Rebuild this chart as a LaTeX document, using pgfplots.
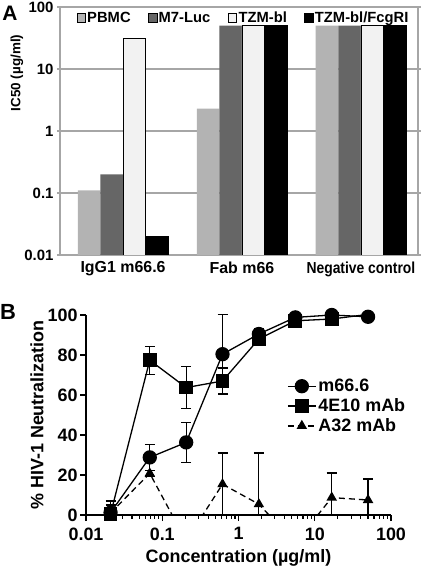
\documentclass[border=0pt]{standalone}
\usepackage{pgfplots}
\pgfplotsset{compat=1.18}
\usepackage{fontspec}
\setmainfont{Liberation Sans}
\definecolor{gridgray}{HTML}{A6A6A6}
\definecolor{pbmc}{HTML}{B3B3B3}
\definecolor{mseven}{HTML}{666666}
\definecolor{tzm}{HTML}{F2F2F2}
\newcommand{\fs}[1]{\fontsize{#1}{#1}\selectfont\bfseries}
\begin{document}
\begin{tikzpicture}
\path[use as bounding box] (0,0) rectangle (422bp,567bp);
\node[font=\fs{21}] at (10bp,554bp) {A};
\node[font=\fs{22}] at (8bp,255bp) {B};
\begin{axis}[
  at={(60bp,312bp)}, anchor=south west, scale only axis,
  width=358bp, height=248bp,
  ymode=log, ymin=0.01, ymax=100, log origin=infty,
  xmin=-0.53, xmax=2.48,
  ybar=0pt, bar width=0.19,
  xtick={0,1,2},
  xticklabels={IgG1 m66.6,Fab m66,\scalebox{0.87}[1]{Negative control}},
  xtick style={draw=none},
  ytick={0.01,0.1,1,10,100}, yticklabels={0.01,0.1,1,10,100},
  yminorticks=false,
  ymajorgrids, grid style={gridgray, line width=1.5bp},
  axis line style={gridgray, line width=1.8bp},
  ytick style={gridgray, line width=1.5bp}, tick align=outside, major tick length=3bp,
  yticklabel style={font=\fs{15}},
  xticklabel style={font=\fs{16}},
  ylabel={IC50 (µg/ml)},
  ylabel style={font=\fs{13.5}, at={(axis description cs:-0.12,0.734)}, anchor=center},
  /pgf/number format/assume math mode=true,
  legend columns=4,
  legend style={draw=none, fill=none, font=\fs{14.8}, at={(axis description cs:0.512,0.956)}, anchor=center,
    /tikz/every even column/.append style={column sep=16bp}, inner sep=0pt, nodes={inner xsep=1.5bp}},
  legend image code/.code={\draw[#1,/tikz/.cd] (0bp,-4.3bp) rectangle (8.6bp,4.3bp);},
]
\addplot[fill=pbmc, draw=none] coordinates {(0,0.11) (1,2.3) (2,50)};
\addplot[fill=mseven, draw=none] coordinates {(0,0.2) (1,50) (2,50)};
\addplot[fill=tzm, draw=black, line width=0.8bp] coordinates {(0,31.5) (1,50) (2,50)};
\addplot[fill=black, draw=black] coordinates {(0,0.02) (1,50) (2,50)};
\legend{PBMC,M7-Luc,TZM-bl,TZM-bl/FcgRI}
\end{axis}

\begin{axis}[
  at={(86bp,52bp)}, anchor=south west, scale only axis,
  width=305bp, height=200bp,
  xmode=log, xmin=0.01, xmax=100, ymin=0, ymax=100,
  axis x line=bottom, axis y line=left,
  axis line style={-, line width=1.3bp, black},
  tick align=outside, major tick length=6bp, minor tick length=3.5bp,
  tick style={black, line width=1.2bp},
  xtick={0.01,0.1,1,10,100}, xticklabels={0.01,0.1,1,10,100},
  ytick={0,20,40,60,80,100},
  tick label style={font=\fs{18}},
  xticklabel style={yshift=-3bp},
  yticklabel style={xshift=1bp},
  /pgf/number format/assume math mode=true,
  xlabel={Concentration (µg/ml)}, ylabel={\% HIV-1 Neutralization},
  label style={font=\fs{18}},
  xlabel style={at={(axis description cs:0.5,-0.2385)}, anchor=base},
  ylabel style={at={(axis description cs:-0.161,0.5)}, anchor=center},
  clip mode=individual,
  legend style={draw=none, fill=none, font=\fs{18}, at={(axis description cs:0.659,0.69)}, anchor=north west, row sep=1.5bp, inner sep=0pt},
  legend cell align=left,
  legend image code/.code={\draw[mark repeat=2,mark phase=2,#1] plot coordinates {(0bp,0bp) (14bp,0bp) (28bp,0bp)};},
  m66/.style={black, line width=1.3bp, mark=*, mark size=6.5bp, mark options={solid}},
  e10/.style={black, line width=1.3bp, mark=square*, mark size=6.2bp, mark options={solid}},
  a32/.style={black, line width=1.3bp, dash pattern=on 6bp off 4bp, mark=triangle*, mark size=4.8bp, mark options={solid}},
  ebar/.style={error bars/y dir=both, error bars/y explicit,
    error bars/error mark=|,
    error bars/error mark options={mark size=5bp, line width=1.2bp, solid},
    error bars/error bar style={line width=1.2bp, solid}},
]
\addlegendimage{m66}\addlegendentry{m66.6}
\addlegendimage{e10}\addlegendentry{4E10 mAb}
\addlegendimage{a32}\addlegendentry{A32 mAb}
% 4E10 mAb
\addplot[e10, ebar, forget plot] coordinates {
(0.021,0.5) += (0,4.5) -= (0,0.5)
(0.0686,77.4) +- (0,7)
(0.206,63.7) +- (0,10.5)
(0.617,67) +- (0,6.5)
(1.85,88) +- (0,2)
(5.56,97.1) +- (0,1)
(16.7,98) +- (0,1)
(50,100.3) +- (0,0.5)
};
% A32 mAb line
\addplot[a32, mark=none, forget plot] coordinates {
(0.021,1) (0.0686,20.8) (0.206,-13) (0.617,15.4) (1.85,5.4) (5.56,-14) (16.7,8.7) (50,7.5)
};
% A32 mAb markers
\addplot[a32, only marks, ebar, forget plot] coordinates {
(0.021,1) += (0,0) -= (0,0)
(0.0686,20.8) +- (0,1.5)
(0.617,15.4) += (0,15.6) -= (0,15.4)
(1.85,5.4) += (0,25.6) -= (0,5.4)
(16.7,8.7) += (0,12.3) -= (0,8.7)
(50,7.5) += (0,10.5) -= (0,7.5)
};
% m66.6
\addplot[m66, ebar, forget plot] coordinates {
(0.021,1.2) += (0,5.8) -= (0,1.2)
(0.0686,28.8) +- (0,6.4)
(0.206,36.3) +- (0,10)
(0.617,80.4) +- (0,20)
(1.85,90.5) +- (0,2.5)
(5.56,98.8) +- (0,1)
(16.7,100) +- (0,1)
(50,99.1) +- (0,1)
};
\end{axis}
\end{tikzpicture}
\end{document}
